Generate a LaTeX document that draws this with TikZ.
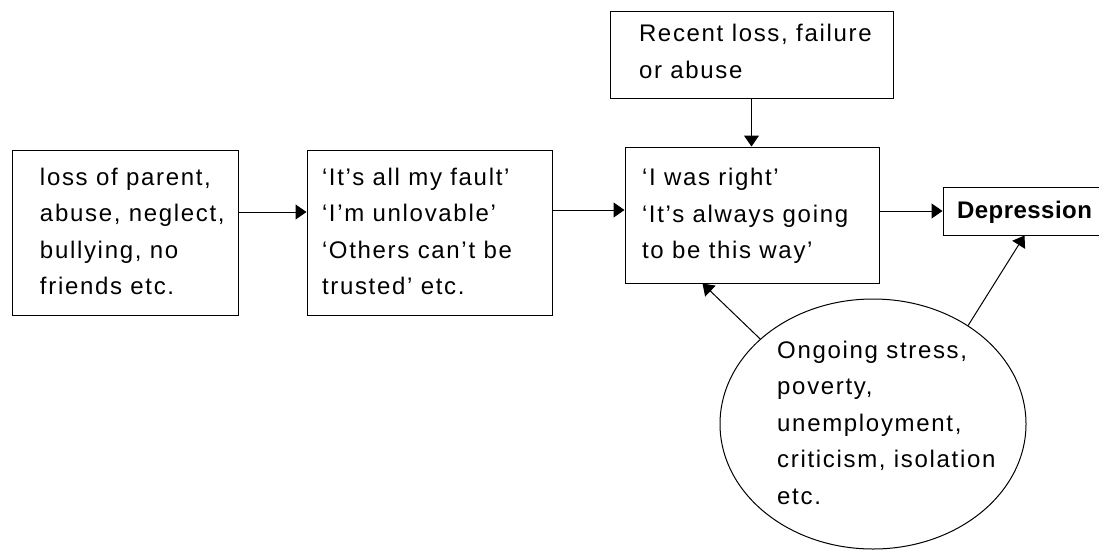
\documentclass[tikz,border=0pt]{standalone}
\usepackage{fontspec}
\setmainfont{Liberation Sans}[LetterSpace=7]
\usetikzlibrary{shapes.geometric,arrows.meta}
\newcommand\lbox[3]{\makebox[#1][l]{\hspace*{#2}\begin{tabular}{@{}l@{}}#3\end{tabular}}}
\tikzset{
  boxnode/.style={draw, rectangle, line width=1pt, inner sep=0pt, font=\fontsize{24}{36.5}\selectfont},
  txt/.style={inner sep=0pt, font=\fontsize{24}{36.5}\selectfont},
  arr/.style={line width=1pt, -{Triangle[length=11pt,width=15pt]}},
}
\begin{document}
\begin{tikzpicture}[x=1pt,y=-1pt]
\useasboundingbox[fill=white] (0,0) rectangle (1099,549);
\node[boxnode, minimum width=226pt, minimum height=165pt] (b1) at (125,232.5)
  {\lbox{226pt}{28pt}{loss of parent,\\abuse, neglect,\\bullying, no\\friends etc.}};
\node[boxnode, minimum width=245pt, minimum height=165pt] (b2) at (429.5,232.5)
  {\lbox{245pt}{15pt}{‘It’s all my fault’\\‘I’m unlovable’\\‘Others can’t be\\trusted’ etc.}};
\node[boxnode, minimum width=254pt, minimum height=136pt] (b3) at (752,215)
  {\lbox{254pt}{17pt}{‘I was right’\\‘It’s always going\\to be this way’}};
\node[boxnode, minimum width=283pt, minimum height=87pt] (top) at (751.5,54.5)
  {\lbox{283pt}{29pt}{\raisebox{2pt}{Recent loss, failure}\\\raisebox{2pt}{or abuse}}};
\node[boxnode, minimum width=165pt, minimum height=48pt] (dep) at (1025.5,211)
  {\lbox{165pt}{14pt}{\bfseries\addfontfeature{LetterSpace=2}Depression}};
\node[draw, ellipse, line width=1pt, minimum width=306pt, minimum height=250pt, inner sep=0pt] (c) at (873,424) {};
\node[txt, anchor=west] (ct) at (777,424)
  {\begin{tabular}{@{}l@{}}Ongoing stress,\\poverty,\\unemployment,\\criticism, isolation\\etc.\end{tabular}};
\draw[arr] ([yshift=20.5pt]b1.east) -- ([yshift=20.5pt]b2.west);
\draw[arr] ([yshift=22.5pt]b2.east) -- ([yshift=5pt]b3.west);
\draw[arr] (top.south) -- (top.south |- b3.north);
\draw[arr] (b3.east |- dep.west) -- (dep.west);
\draw[arr] (c.143) -- ([xshift=78pt]b3.south west);
\draw[arr] (c.46) -- ([xshift=82pt]dep.south west);
\end{tikzpicture}
\end{document}
